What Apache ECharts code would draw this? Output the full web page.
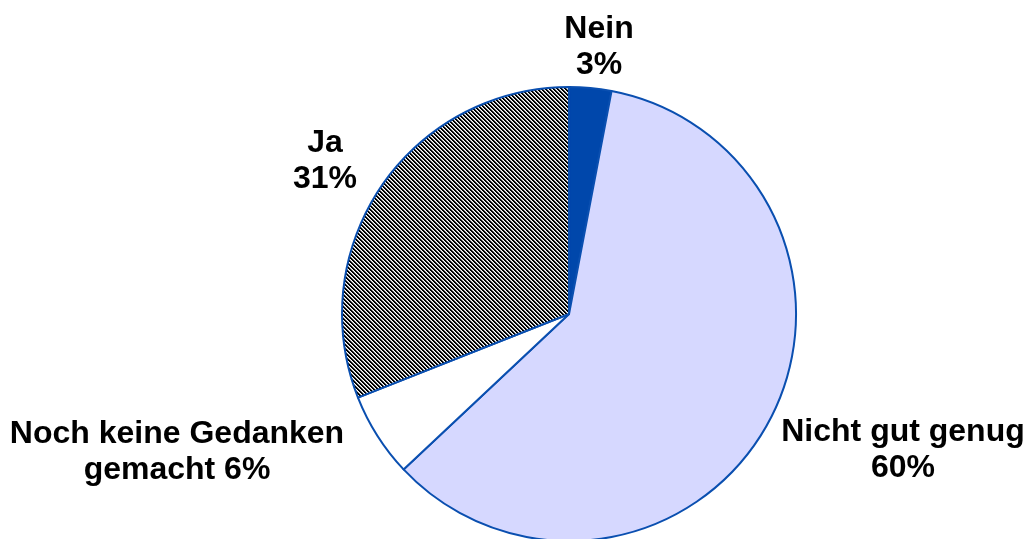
<!DOCTYPE html>
<html>
<head>
<meta charset="utf-8">
<script src="https://cdn.jsdelivr.net/npm/echarts@6/dist/echarts.min.js"></script>
<style>
  html, body { margin: 0; padding: 0; background: #fff; }
  #chart { width: 1026px; height: 539px; }
</style>
</head>
<body>
<div id="chart"></div>
<script>
const categories = ["Nein", "Nicht gut genug", "Noch keine Gedanken\ngemacht", "Ja"];
const values = [3, 60, 6, 31];
const colors = ["#0047ab", "#d6d8ff", "#ffffff", null];
// where each label block sits (centre of the text)
const labelSpots = [[599, 47], [903, 450], [177, 452], [325, 161]];

// small hatch tile for the "Ja" slice
function hatchPattern() {
  const c = document.createElement("canvas");
  c.width = 4;
  c.height = 4;
  const ctx = c.getContext("2d");
  ctx.fillStyle = "#ffffff";
  ctx.fillRect(0, 0, 4, 4);
  for (let i = 0; i < 4; i++) {
    ctx.fillStyle = "#000000";
    ctx.fillRect(i, i, 1, 1);
    ctx.fillRect((i + 1) % 4, i, 1, 1);
    ctx.fillStyle = "#a8a8a8";
    ctx.fillRect((i + 2) % 4, i, 1, 1);
  }
  return { image: c, repeat: "repeat" };
}

const chart = echarts.init(document.getElementById("chart"));

const data = categories.map(function(name, i) {
  return {
    name: name,
    value: values[i],
    itemStyle: { color: colors[i] || hatchPattern() },
  };
});

chart.setOption({
  animation: false,
  series: [
    {
      type: "pie",
      center: ["55.46%", "58.26%"],
      radius: 227,
      startAngle: 90,
      clockwise: true,
      data: data,
      itemStyle: {
        borderColor: "#0a4fb0",
        borderWidth: 2,
      },
      label: {
        show: true,
        position: "outside",
        formatter: function(p) {
          return p.name.indexOf("\n") >= 0 ? p.name + " " + p.value + "%" : p.name + "\n" + p.value + "%";
        },
        fontFamily: "Liberation Sans, Arial, sans-serif",
        fontWeight: "bold",
        fontSize: 32,
        lineHeight: 36,
        color: "#000",
        overflow: "none",
      },
      labelLine: { show: false },
      labelLayout: function(params) {
        const spot = labelSpots[params.dataIndex];
        return { x: spot[0], y: spot[1], align: "center", verticalAlign: "middle" };
      },
      emphasis: { disabled: true },
    },
  ],
});
</script>
</body>
</html>
